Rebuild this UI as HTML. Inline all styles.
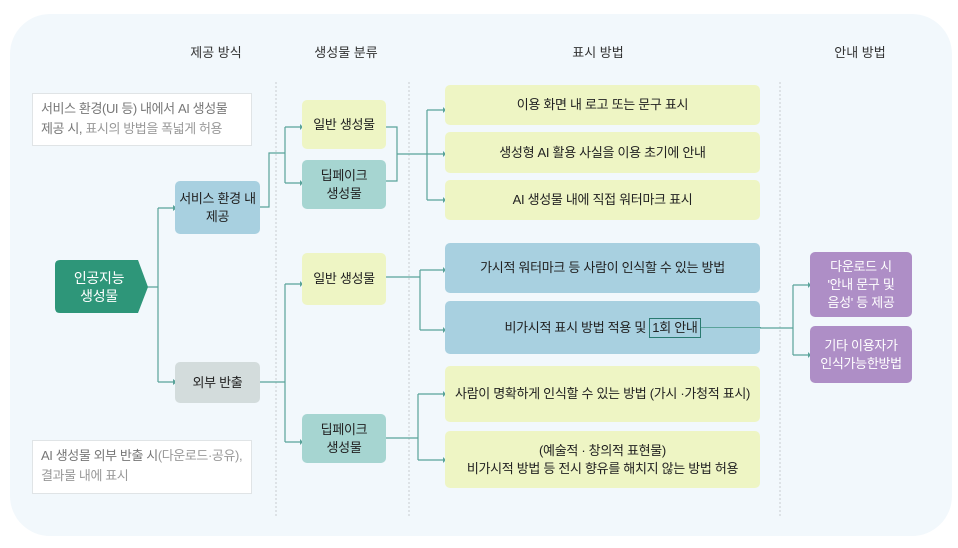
<!DOCTYPE html>
<html><head><meta charset="utf-8"><style>
*{margin:0;padding:0;box-sizing:border-box}
body{width:958px;height:548px;background:#fff;position:relative;overflow:hidden;font-family:"Liberation Sans","Noto Sans CJK KR",sans-serif;color:#222}
.panel{position:absolute;left:10px;top:14px;width:942px;height:522px;background:#f2f8fc;border-radius:40px}
.b{position:absolute;display:flex;align-items:center;justify-content:center;text-align:center;font-size:13px;line-height:18px;border-radius:5px;letter-spacing:-0.3px}
.h{position:absolute;font-size:13px;transform:translateX(-50%);top:42px;color:#333}
.note{position:absolute;background:#fff;border:1px solid #e0e4e6;font-size:13px;line-height:20px;color:#999;padding:5px 8px;letter-spacing:-0.4px}
.g{background:#eef5c4}.t{background:#a6d5d1}.bl{background:#a8d0e0}.p{background:#ae8ec6;color:#fff}
svg{position:absolute;left:0;top:0}
</style></head><body>
<div class="panel"></div>
<div class="h" style="left:216px">제공 방식</div>
<div class="h" style="left:346px">생성물 분류</div>
<div class="h" style="left:598px">표시 방법</div>
<div class="h" style="left:860px">안내 방법</div>
<svg width="958" height="548">
<g stroke="#c8ccd0" stroke-width="1" stroke-dasharray="2,2">
<line x1="276" y1="82" x2="276" y2="518"/><line x1="409" y1="82" x2="409" y2="518"/><line x1="780" y1="82" x2="780" y2="518"/></g>
<g stroke="#5aa39a" stroke-width="1.2" fill="none">
<path d="M147 287H158M158 208V382M158 208H173M158 382H173"/>
<path d="M260 207H269V153H285M285 127V183M285 127H300M285 183H300"/>
<path d="M386 127H397V181H386M397 154H427M427 110V200M427 110H443M427 154H443M427 200H443"/>
<path d="M260 382H285M285 284V442M285 284H300M285 442H300"/>
<path d="M386 277H420M420 270V330M420 270H443M420 330H443"/>
<path d="M386 438H418M418 394V460M418 394H443M418 460H443"/>
<path d="M707 328H793M793 285V355M793 285H808M793 355H808"/>
</g>
<g fill="#5aa39a">
<path d="M173 205l4 3-4 3z"/><path d="M173 379l4 3-4 3z"/>
<path d="M300 124l3 3-3 3z"/><path d="M300 180l3 3-3 3z"/>
<path d="M443 107l3 3-3 3z"/><path d="M443 151l3 3-3 3z"/><path d="M443 197l3 3-3 3z"/>
<path d="M300 281l3 3-3 3z"/><path d="M300 439l3 3-3 3z"/>
<path d="M443 267l3 3-3 3z"/><path d="M443 327l3 3-3 3z"/>
<path d="M443 391l3 3-3 3z"/><path d="M443 457l3 3-3 3z"/>
<path d="M808 282l3 3-3 3z"/><path d="M808 352l3 3-3 3z"/>
</g>
<path d="M60 260H138L148 287L138 313H60Q55 313 55 308V265Q55 260 60 260Z" fill="#2e9679"/>
</svg>
<div class="b" style="left:55px;top:260px;width:88px;height:53px;color:#fff;font-size:14px">인공지능<br>생성물</div>
<div class="note" style="left:32px;top:93px;width:220px;height:53px"><span style="color:#777">서비스 환경(UI 등) 내에서 AI 생성물<br>제공 시,</span> 표시의 방법을 폭넓게 허용</div>
<div class="note" style="left:32px;top:440px;width:220px;height:54px"><span style="color:#777">AI 생성물 외부 반출 시</span>(다운로드·공유),<br>결과물 내에 표시</div>
<div class="b bl" style="left:175px;top:181px;width:85px;height:53px">서비스 환경 내<br>제공</div>
<div class="b" style="left:175px;top:362px;width:85px;height:41px;background:#d3dcdc">외부 반출</div>
<div class="b g" style="left:302px;top:100px;width:84px;height:49px">일반 생성물</div>
<div class="b t" style="left:302px;top:160px;width:84px;height:49px">딥페이크<br>생성물</div>
<div class="b g" style="left:302px;top:253px;width:84px;height:52px">일반 생성물</div>
<div class="b t" style="left:302px;top:414px;width:84px;height:49px">딥페이크<br>생성물</div>
<div class="b g" style="left:445px;top:85px;width:315px;height:40px">이용 화면 내 로고 또는 문구 표시</div>
<div class="b g" style="left:445px;top:132px;width:315px;height:41px">생성형 AI 활용 사실을 이용 초기에 안내</div>
<div class="b g" style="left:445px;top:180px;width:315px;height:40px">AI 생성물 내에 직접 워터마크 표시</div>
<div class="b bl" style="left:445px;top:243px;width:315px;height:50px">가시적 워터마크 등 사람이 인식할 수 있는 방법</div>
<div class="b bl" style="left:445px;top:301px;width:315px;height:53px">비가시적 표시 방법 적용 및&nbsp;<span style="border:1px solid #2a7a70;padding:0 2px">1회 안내</span></div>
<div style="position:absolute;left:701px;top:327px;width:60px;height:1.2px;background:#5aa39a"></div>
<div class="b g" style="left:445px;top:366px;width:315px;height:56px">사람이 명확하게 인식할 수 있는 방법 (가시 ·가청적 표시)</div>
<div class="b g" style="left:445px;top:431px;width:315px;height:57px">(예술적 · 창의적 표현물)<br>비가시적 방법 등 전시 향유를 해치지 않는 방법 허용</div>
<div class="b p" style="left:810px;top:252px;width:102px;height:65px">다운로드 시<br>'안내 문구 및<br>음성' 등 제공</div>
<div class="b p" style="left:810px;top:326px;width:102px;height:57px">기타 이용자가<br>인식가능한방법</div>
</body></html>
